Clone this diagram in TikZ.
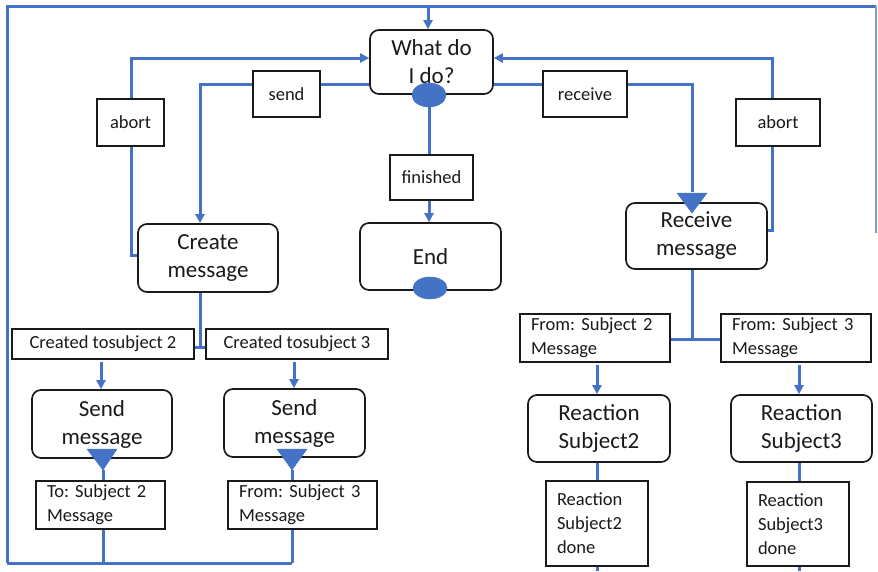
\documentclass[tikz,border=0pt]{standalone}
\usepackage{fontspec}
\setmainfont{Carlito}
\frenchspacing
\usetikzlibrary{arrows.meta,calc,backgrounds}
\definecolor{flow}{HTML}{4472C4}
\definecolor{ink}{HTML}{1A1A1A}
\tikzset{
  mainbox/.style={draw=ink, line width=1.7pt, rounded corners=9pt, fill=white,
    inner sep=0pt, align=center, text=ink, font=\fontsize{23}{28}\selectfont},
  tagbox/.style={draw=ink, line width=1.1pt, fill=white, inner sep=0pt,
    align=center, text=ink, font=\fontsize{18.5}{24}\selectfont},
  notebox/.style={draw=ink, line width=1.1pt, fill=white, inner ysep=0pt,
    inner xsep=11pt, align=left, text=ink, font=\fontsize{18.5}{24}\selectfont},
  link/.style={draw=flow, line width=3pt},
  arrowlink/.style={link, -{Triangle[length=9pt,width=9pt]}},
  marker/.style={fill=flow, draw=flow, line width=0.5pt},
}
\begin{document}
\begin{tikzpicture}[x=1pt,y=-1pt]
\useasboundingbox (0,0) rectangle (878,571);

% process boxes
\node[mainbox, minimum width=123pt, minimum height=64pt] (what) at (431.5,62) {What do\\I do?};
\node[mainbox, minimum width=140pt, minimum height=68pt] (create) at (208,258) {Create\\message};
\node[mainbox, minimum width=141pt, minimum height=67pt] (finish) at (430.5,256.5) {End};
\node[mainbox, minimum width=141pt, minimum height=66pt] (recv) at (696.5,236) {Receive\\message};
\node[mainbox, minimum width=140pt, minimum height=68pt] (sendA) at (102,424) {Send\\message};
\node[mainbox, minimum width=141pt, minimum height=68pt] (sendB) at (294.5,423) {Send\\message};
\node[mainbox, minimum width=142pt, minimum height=67pt] (reactA) at (599,428.5) {Reaction\\Subject2};
\node[mainbox, minimum width=141pt, minimum height=67pt] (reactB) at (801.5,428.5) {Reaction\\Subject3};

% condition labels
\node[tagbox, minimum width=67pt, minimum height=47pt] (abortA) at (130.5,122.5) {abort};
\node[tagbox, minimum width=67pt, minimum height=46pt] (sendT) at (286.5,94) {send};
\node[tagbox, minimum width=84pt, minimum height=46pt] (recvT) at (585,94) {receive};
\node[tagbox, minimum width=84pt, minimum height=47pt] (abortB) at (778,122.5) {abort};
\node[tagbox, minimum width=83pt, minimum height=45pt] (finT) at (431.5,177.5) {finished};
\node[tagbox, minimum width=182pt, minimum height=30pt] (toA) at (103,344) {Created tosubject 2};
\node[tagbox, minimum width=182pt, minimum height=30pt] (toB) at (297,344) {Created tosubject 3};

% message notes
\node[notebox, text width=128pt, minimum height=48pt] (fromA) at (595,338) {From: Subject 2\\Message};
\node[notebox, text width=128pt, minimum height=48pt] (fromB) at (796,338) {From: Subject 3\\Message};
\node[notebox, text width=107pt, minimum height=48pt] (outA) at (100.5,505) {To: Subject 2\\Message};
\node[notebox, text width=127pt, minimum height=48pt] (outB) at (302.5,505) {From: Subject 3\\Message};
\node[notebox, text width=80pt, minimum height=85pt] (doneA) at (597,523.5) {Reaction\\Subject2\\done};
\node[notebox, text width=80pt, minimum height=84pt] (doneB) at (798,524) {Reaction\\Subject3\\done};

% markers on the process boxes
\fill[marker] (429,95) ellipse [x radius=17pt, y radius=12pt];
\fill[marker] (430,288) ellipse [x radius=17pt, y radius=11pt];
\fill[marker] (677,193) -- (707,193) -- (692,213) -- cycle;
\fill[marker] (87,449) -- (117,449) -- (103,470) -- cycle;
\fill[marker] (277,449) -- (307,449) -- (292,470) -- cycle;

% routing points
\coordinate (ftl) at (7,6);
\coordinate (ftr) at (876,6);
\coordinate (frr) at (876,233);
\coordinate (fbl) at (7,563);
\coordinate (wtop) at (428,6);
\coordinate (abL) at (131,58);
\coordinate (abR) at (772,58);
\coordinate (sdL) at (200,84);
\coordinate (rvR) at (692,84);
\coordinate (fin) at (429,100);
\coordinate (fork) at (200,347);
\coordinate (rfork) at (692,339);
\coordinate (dropA) at (101,362);
\coordinate (dropB) at (294,362);
\coordinate (dropC) at (597,365);
\coordinate (dropD) at (799,365);
\coordinate (tipA) at (103,470);
\coordinate (tipB) at (292,470);
\coordinate (endA) at (597,571);
\coordinate (endB) at (799,571);

\begin{scope}[on background layer]
% outer loop back to the decision
\draw[link] (fbl) -- (ftl) -- (ftr);
\draw[draw=flow!70, line width=1.2pt] (ftr) -- (frr);
\draw[link] (fbl) -- (tipB |- fbl);
\draw[arrowlink] (wtop) -- (wtop |- what.north);

% abort paths
\draw[arrowlink] ($(create.west)+(0,-3)$) -| (abL) -- (abL -| what.west);
\draw[arrowlink] ($(recv.east)+(0,-6)$) -| (abR) -- (abR -| what.east);
% send / receive / finished
\draw[arrowlink] (sdL -| what.west) -- (sdL) -- (sdL |- create.north);
\draw[link] (rvR -| what.east) -- (rvR) -- ($(rvR |- recv.north)+(0,-10)$);
\draw[arrowlink] (fin) -- (fin |- finish.north);

% create message fan-out
\draw[link] (fork |- create.south) -- (fork);
\draw[link] (toA.east |- fork) -- (toB.west |- fork);
\draw[arrowlink] (dropA) -- (dropA |- sendA.north);
\draw[arrowlink] (dropB) -- (dropB |- sendB.north);
\draw[link] (tipA) -- (tipA |- fbl);
\draw[link] (tipB) -- (tipB |- fbl);

% receive message fan-out
\draw[link] (rfork |- recv.south) -- (rfork);
\draw[link] (fromA.east |- rfork) -- (fromB.west |- rfork);
\draw[arrowlink] (dropC) -- (dropC |- reactA.north);
\draw[arrowlink] (dropD) -- (dropD |- reactB.north);
\draw[link] (endA |- reactA.south) -- (endA);
\draw[link] (endB |- reactB.south) -- (endB);
\end{scope}
\end{tikzpicture}
\end{document}
